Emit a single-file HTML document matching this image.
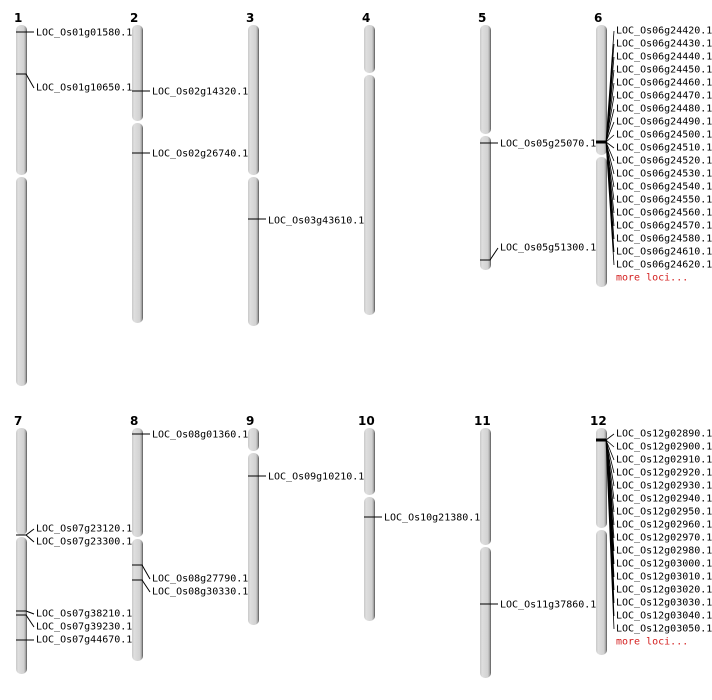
<!DOCTYPE html>
<html><head><meta charset="utf-8"><style>
html,body{margin:0;padding:0;background:#fff;width:712px;height:700px;overflow:hidden}
svg text{font-family:"DejaVu Sans Mono","Liberation Mono",monospace;font-size:10px;fill:#000}
.n{font-family:"DejaVu Sans","Liberation Sans",sans-serif;font-weight:bold;font-size:12px}
.r{fill:#d42020}
</style></head><body>
<svg width="712" height="700" xmlns="http://www.w3.org/2000/svg">
<defs>
<linearGradient id="g" x1="0" x2="1" y1="0" y2="0">
<stop offset="0" stop-color="#c8c8c8"/><stop offset="0.2" stop-color="#dedede"/><stop offset="0.7" stop-color="#d2d2d2"/><stop offset="0.85" stop-color="#b0b0b0"/><stop offset="1" stop-color="#555"/>
</linearGradient>
</defs>
<g fill="url(#g)">
<!-- row 1 -->
<rect x="16" y="25" width="11" height="150" rx="5"/><rect x="16" y="177" width="11" height="209" rx="5"/>
<rect x="132" y="25" width="11" height="96" rx="5"/><rect x="132" y="123" width="11" height="200" rx="5"/>
<rect x="248" y="25" width="11" height="150" rx="5"/><rect x="248" y="177" width="11" height="149" rx="5"/>
<rect x="364" y="25" width="11" height="48" rx="5"/><rect x="364" y="75" width="11" height="240" rx="5"/>
<rect x="480" y="25" width="11" height="109" rx="5"/><rect x="480" y="136" width="11" height="134" rx="5"/>
<rect x="596" y="25" width="11" height="130" rx="5"/><rect x="596" y="157" width="11" height="130" rx="5"/>
<!-- row 2 -->
<rect x="16" y="428" width="11" height="107" rx="5"/><rect x="16" y="537" width="11" height="137" rx="5"/>
<rect x="132" y="428" width="11" height="109" rx="5"/><rect x="132" y="539" width="11" height="122" rx="5"/>
<rect x="248" y="428" width="11" height="23" rx="5"/><rect x="248" y="453" width="11" height="172" rx="5"/>
<rect x="364" y="428" width="11" height="67" rx="5"/><rect x="364" y="497" width="11" height="124" rx="5"/>
<rect x="480" y="428" width="11" height="117" rx="5"/><rect x="480" y="547" width="11" height="131" rx="5"/>
<rect x="596" y="428" width="11" height="100" rx="5"/><rect x="596" y="530" width="11" height="125" rx="5"/>
</g>
<g class="n">
<text class="n" x="14" y="22">1</text><text class="n" x="130" y="22">2</text><text class="n" x="246" y="22">3</text><text class="n" x="362" y="22">4</text><text class="n" x="478" y="22">5</text><text class="n" x="594" y="22">6</text>
<text class="n" x="14" y="425">7</text><text class="n" x="130" y="425">8</text><text class="n" x="246" y="425">9</text><text class="n" x="358" y="425">10</text><text class="n" x="474" y="425">11</text><text class="n" x="590" y="425">12</text>
</g>
<g stroke="#000" stroke-width="1" fill="none">
<path d="M16 32H34"/><path d="M16 74H26L34 88"/>
<path d="M132 91H150"/><path d="M132 153H150"/>
<path d="M248 219H266"/>
<path d="M480 143H498"/><path d="M480 260H490L498 248"/>
<path d="M16 535H26L34 529M26 535L34 542"/>
<path d="M16 611H26L34 614M16 615H26L34 627M16 640H26L34 640"/>
<path d="M132 434H150"/><path d="M132 565H142L150 579M132 580H142L150 592"/>
<path d="M248 476H266"/><path d="M364 517H382"/><path d="M480 604H498"/>
</g>
<g stroke="#000" stroke-width="0.8" fill="none">
<path d="M606 142L614 31M606 142L614 44M606 142L614 57M606 142L614 70M606 142L614 83M606 142L614 96M606 142L614 109M606 142L614 122M606 142L614 135M606 142L614 148M606 142L614 161M606 142L614 174M606 142L614 187M606 142L614 200M606 142L614 213M606 142L614 226M606 142L614 239M606 142L614 252M606 142L614 265"/>
<path d="M606 440L614 434M606 440L614 447M606 440L614 460M606 440L614 473M606 440L614 486M606 440L614 499M606 440L614 512M606 440L614 525M606 440L614 538M606 440L614 551M606 440L614 564M606 440L614 577M606 440L614 590M606 440L614 603M606 440L614 616M606 440L614 629"/>
</g>
<g stroke="#000" stroke-width="3"><path d="M596 142H606"/><path d="M596 440H606"/></g>
<g dominant-baseline="central">
<text x="36" y="33">LOC_Os01g01580.1</text>
<text x="36" y="88">LOC_Os01g10650.1</text>
<text x="152" y="92">LOC_Os02g14320.1</text>
<text x="152" y="154">LOC_Os02g26740.1</text>
<text x="268" y="221">LOC_Os03g43610.1</text>
<text x="500" y="144">LOC_Os05g25070.1</text>
<text x="500" y="248">LOC_Os05g51300.1</text>
<text x="616" y="31">LOC_Os06g24420.1</text>
<text x="616" y="44">LOC_Os06g24430.1</text>
<text x="616" y="57">LOC_Os06g24440.1</text>
<text x="616" y="70">LOC_Os06g24450.1</text>
<text x="616" y="83">LOC_Os06g24460.1</text>
<text x="616" y="96">LOC_Os06g24470.1</text>
<text x="616" y="109">LOC_Os06g24480.1</text>
<text x="616" y="122">LOC_Os06g24490.1</text>
<text x="616" y="135">LOC_Os06g24500.1</text>
<text x="616" y="148">LOC_Os06g24510.1</text>
<text x="616" y="161">LOC_Os06g24520.1</text>
<text x="616" y="174">LOC_Os06g24530.1</text>
<text x="616" y="187">LOC_Os06g24540.1</text>
<text x="616" y="200">LOC_Os06g24550.1</text>
<text x="616" y="213">LOC_Os06g24560.1</text>
<text x="616" y="226">LOC_Os06g24570.1</text>
<text x="616" y="239">LOC_Os06g24580.1</text>
<text x="616" y="252">LOC_Os06g24610.1</text>
<text x="616" y="265">LOC_Os06g24620.1</text>
<text x="616" y="278" class="r">more loci...</text>
<text x="36" y="529">LOC_Os07g23120.1</text>
<text x="36" y="542">LOC_Os07g23300.1</text>
<text x="36" y="614">LOC_Os07g38210.1</text>
<text x="36" y="627">LOC_Os07g39230.1</text>
<text x="36" y="640">LOC_Os07g44670.1</text>
<text x="152" y="435">LOC_Os08g01360.1</text>
<text x="152" y="579">LOC_Os08g27790.1</text>
<text x="152" y="592">LOC_Os08g30330.1</text>
<text x="268" y="477">LOC_Os09g10210.1</text>
<text x="384" y="518">LOC_Os10g21380.1</text>
<text x="500" y="605">LOC_Os11g37860.1</text>
<text x="616" y="434">LOC_Os12g02890.1</text>
<text x="616" y="447">LOC_Os12g02900.1</text>
<text x="616" y="460">LOC_Os12g02910.1</text>
<text x="616" y="473">LOC_Os12g02920.1</text>
<text x="616" y="486">LOC_Os12g02930.1</text>
<text x="616" y="499">LOC_Os12g02940.1</text>
<text x="616" y="512">LOC_Os12g02950.1</text>
<text x="616" y="525">LOC_Os12g02960.1</text>
<text x="616" y="538">LOC_Os12g02970.1</text>
<text x="616" y="551">LOC_Os12g02980.1</text>
<text x="616" y="564">LOC_Os12g03000.1</text>
<text x="616" y="577">LOC_Os12g03010.1</text>
<text x="616" y="590">LOC_Os12g03020.1</text>
<text x="616" y="603">LOC_Os12g03030.1</text>
<text x="616" y="616">LOC_Os12g03040.1</text>
<text x="616" y="629">LOC_Os12g03050.1</text>
<text x="616" y="642" class="r">more loci...</text>
</g>
</svg>
</body></html>
